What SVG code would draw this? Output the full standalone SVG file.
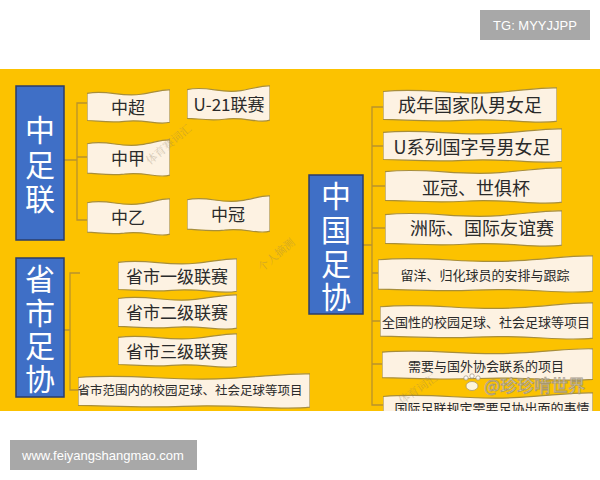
<svg xmlns="http://www.w3.org/2000/svg" xmlns:xlink="http://www.w3.org/1999/xlink" width="600" height="480" viewBox="0 0 600 480">
<style>
text{font-family:"Noto Sans CJK SC","Noto Sans",sans-serif;}
.card{fill:#FDF2E2;stroke:#A88E3A;stroke-width:1.2;}
.t{fill:#2a2a2a;text-anchor:middle;dominant-baseline:central;}
.big{fill:#ffffff;font-size:30px;writing-mode:vertical-rl;text-orientation:upright;}
.blue{fill:#3F6FC6;stroke:#2b3d6a;stroke-width:1.5;}
.br{fill:none;stroke:#B8922C;stroke-width:1.3;}
.wm{fill:#8a7a60;font-family:"Noto Serif CJK SC","Noto Sans CJK SC",serif;font-size:11px;opacity:0.35;}
</style>
<defs>
<symbol id="card" viewBox="0 0 100 40" preserveAspectRatio="none">
<path vector-effect="non-scaling-stroke" d="M0,5 C25,0 40,10 65,6 C80,4 92,0 100,1 L100,38 C85,42 70,34 45,37 C25,39 12,36 0,36 Z"/>
</symbol>
<clipPath id="clip"><rect x="0" y="69" width="600" height="342"/></clipPath>
</defs>
<rect width="600" height="480" fill="#ffffff"/>
<g id="tg">
<rect x="480" y="10" width="110" height="30" fill="#A8A8A8"/>
<text x="535" y="25.5" fill="#ffffff" font-size="13" text-anchor="middle" dominant-baseline="central" style="font-family:'Liberation Sans',Arial,sans-serif">TG: MYYJJPP</text>
</g>
<g clip-path="url(#clip)">
<rect x="0" y="69" width="600" height="342" fill="#FCC200"/>
<g id="connectors">
<path class="br" d="M87,103 L77,103 L77,220 L87,220 M64,160 L77,160 M77,157 L87,157"/>
<path class="br" d="M80,273 L70,273 L70,390 L78,390 M64,330 L70,330"/>
<path class="br" d="M383,107 L372,107 L372,405 L383,405 M363,245 L372,245 M372,146 L383,146 M372,186 L385,186 M372,228 L385,228 M372,273 L378,273 M372,321 L380,321 M372,364 L382,364"/>
</g>
<g id="n-zhongzulian">
<rect class="blue" x="16" y="86" width="48" height="154"/>
<text class="big" x="40" y="115" letter-spacing="4.5">中足联</text>
</g>
<g id="n-zhongchao"><use href="#card" class="card" x="87" y="89" width="83" height="35"/><text class="t" x="128" y="106" font-size="17">中超</text></g>
<g id="n-u21"><use href="#card" class="card" x="187" y="85" width="83" height="37"/><text class="t" x="229" y="103" font-size="17">U-21联赛</text></g>
<g id="n-zhongjia"><use href="#card" class="card" x="87" y="139" width="83" height="38"/><text class="t" x="128" y="157" font-size="17">中甲</text></g>
<g id="n-zhongyi"><use href="#card" class="card" x="87" y="198" width="83" height="38"/><text class="t" x="128" y="216" font-size="17">中乙</text></g>
<g id="n-zhongguan"><use href="#card" class="card" x="187" y="195" width="83" height="38"/><text class="t" x="228" y="213" font-size="17">中冠</text></g>
<g id="n-shengshizuxie">
<rect class="blue" x="16" y="258" width="48" height="139"/>
<text class="big" x="40" y="264" letter-spacing="3.3">省市足协</text>
</g>
<g id="n-l1"><use href="#card" class="card" x="118" y="258" width="119" height="35"/><text class="t" x="177" y="275" font-size="17">省市一级联赛</text></g>
<g id="n-l2"><use href="#card" class="card" x="118" y="294" width="119" height="36"/><text class="t" x="177" y="311" font-size="17">省市二级联赛</text></g>
<g id="n-l3"><use href="#card" class="card" x="118" y="333" width="119" height="35"/><text class="t" x="177" y="350" font-size="17">省市三级联赛</text></g>
<g id="n-local"><use href="#card" class="card" x="78" y="373" width="232" height="36"/><text class="t" x="190" y="389" font-size="12.5">省市范围内的校园足球、社会足球等项目</text></g>
<g id="n-zhongguozuxie">
<rect class="blue" x="309" y="175" width="54" height="139"/>
<text class="big" x="336" y="181" letter-spacing="3.7">中国足协</text>
</g>
<g id="n-r1"><use href="#card" class="card" x="383" y="87" width="174" height="36"/><text class="t" x="470" y="104" font-size="18">成年国家队男女足</text></g>
<g id="n-r2"><use href="#card" class="card" x="383" y="128" width="179" height="35"/><text class="t" x="472" y="146" font-size="18">U系列国字号男女足</text></g>
<g id="n-r3"><use href="#card" class="card" x="385" y="167" width="177" height="37"/><text class="t" x="476" y="187" font-size="18">亚冠、世俱杯</text></g>
<g id="n-r4"><use href="#card" class="card" x="385" y="210" width="177" height="37"/><text class="t" x="482" y="227" font-size="18">洲际、国际友谊赛</text></g>
<g id="n-r5"><use href="#card" class="card" x="378" y="255" width="215" height="38"/><text class="t" x="485" y="274" font-size="13">留洋、归化球员的安排与跟踪</text></g>
<g id="n-r6"><use href="#card" class="card" x="380" y="302" width="213" height="38"/><text class="t" x="486" y="321" font-size="13">全国性的校园足球、社会足球等项目</text></g>
<g id="n-r7"><use href="#card" class="card" x="382" y="348" width="211" height="33"/><text class="t" x="486" y="365" font-size="13">需要与国外协会联系的项目</text></g>
<g id="n-r8"><use href="#card" class="card" x="383" y="392" width="210" height="36"/><text class="t" x="492" y="407" font-size="13">国际足联规定需要足协出面的事情</text></g>
<g id="watermarks">
<text class="wm" transform="translate(150,165) rotate(-40)">体育赛词汇</text>
<text class="wm" transform="translate(262,272) rotate(-40)">个人摘测</text>
<text class="wm" transform="translate(402,405) rotate(-35)">体育词汇</text>
<g opacity="0.85" fill="#ffffff" stroke="#9a9080" stroke-width="0.8">
<circle cx="466" cy="378" r="2.2"/><circle cx="472" cy="376" r="2.2"/><circle cx="478" cy="378" r="2.2"/>
<ellipse cx="472" cy="386" rx="6" ry="4.5"/>
<text x="484" y="384" font-size="17" dominant-baseline="central">@珍珍啃世界</text>
</g>
</g>
</g>
<g id="url">
<rect x="10" y="440" width="187" height="30" fill="#A8A8A8"/>
<text x="103" y="455.5" fill="#ffffff" font-size="13" text-anchor="middle" dominant-baseline="central" style="font-family:'Liberation Sans',Arial,sans-serif">www.feiyangshangmao.com</text>
</g>
</svg>
